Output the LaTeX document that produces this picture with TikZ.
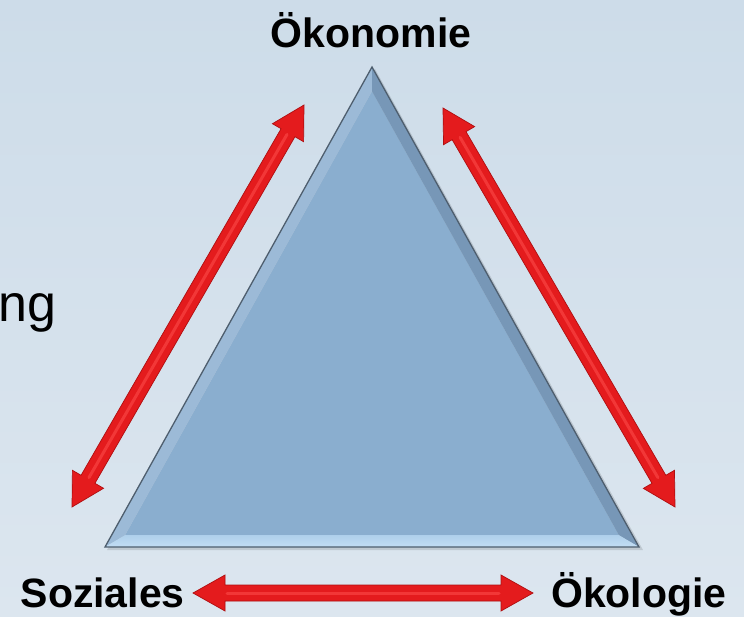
\documentclass[tikz,border=0pt]{standalone}
\usepackage{fontspec}
\setmainfont{Liberation Sans}
\usetikzlibrary{calc}
\definecolor{bgtop}{HTML}{CDDCE9}
\definecolor{bgbot}{HTML}{DCE6EF}
\definecolor{triface}{HTML}{8AAECF}
\definecolor{trileft}{HTML}{9CBAD7}
\definecolor{triright}{HTML}{7797B7}
\definecolor{tribase}{HTML}{B8D8F2}
\definecolor{triline}{HTML}{4E5E6E}
\definecolor{arrbody}{HTML}{E41B1D}
\definecolor{arredge}{HTML}{B00E10}
\definecolor{arrhi}{HTML}{FF4E4E}
\tikzset{
  lbl/.style={font=\fontsize{41}{48}\selectfont\bfseries, inner sep=0pt, text=black},
  arrowshadow/.style={fill=black, opacity=0.12},
  arrowfill/.style={fill=arrbody, draw=arredge, line width=0.7pt, line join=miter},
  arrowhi/.style={draw=arrhi, line width=3pt, opacity=0.55, line cap=round},
}
\newcommand\hl{32pt}
\newcommand\hw{18pt}
\newcommand\sw{8pt}
\newcommand\arrowpoly[2]{(#1) -- ($(#1h)!\hw!90:(#2)$) -- ($(#1h)!\sw!90:(#2)$) -- ($(#2h)!\sw!-90:(#1)$) -- ($(#2h)!\hw!-90:(#1)$) -- (#2) -- ($(#2h)!\hw!90:(#1)$) -- ($(#2h)!\sw!90:(#1)$) -- ($(#1h)!\sw!-90:(#2)$) -- ($(#1h)!\hw!-90:(#2)$) -- cycle}
\newcommand\redarrow[2]{%
  \coordinate (#1h) at ($(#1)!\hl!(#2)$);
  \coordinate (#2h) at ($(#2)!\hl!(#1)$);
  \fill[arrowshadow, shift={(3pt,4pt)}] \arrowpoly{#1}{#2};
  \path[arrowfill] \arrowpoly{#1}{#2};
  \draw[arrowhi] ($(#1h)!2pt!(#2)$) -- ($(#2h)!2pt!(#1)$);
}
\begin{document}
\begin{tikzpicture}[x=1pt, y=-1pt]
  \useasboundingbox (0,0) rectangle (744,617);
  \shade[top color=bgtop, bottom color=bgbot] (0,0) rectangle (744,617);

  % triangle
  \coordinate (apex) at (372,67);
  \coordinate (bl) at (105,547);
  \coordinate (br) at (639,547);
  \coordinate (ctr) at (372,390);
  \coordinate (iapex) at ($(ctr)!0.925!(apex)$);
  \coordinate (ibl) at ($(ctr)!0.925!(bl)$);
  \coordinate (ibr) at ($(ctr)!0.925!(br)$);
  \fill[black, opacity=0.12] ($(bl)+(2,3)$) -- ($(br)+(4,3)$) -- ($(apex)+(3,2)$) -- cycle;
  \fill[triface] (iapex) -- (ibl) -- (ibr) -- cycle;
  \fill[trileft] (apex) -- (bl) -- (ibl) -- (iapex) -- cycle;
  \fill[triright] (apex) -- (br) -- (ibr) -- (iapex) -- cycle;
  \shade[top color=tribase!80!triface, bottom color=tribase!85!white] (bl) -- (br) -- (ibr) -- (ibl) -- cycle;
  \draw[triline, line width=1.3pt, line join=miter] (apex) -- (bl) -- (br) -- cycle;

  % labels
  \node[lbl, anchor=base] (oek) at (371,48) {Ökonomie};
  \node[lbl, anchor=base west] (soz) at (20.5,607) {Soziales};
  \node[lbl, anchor=base west] (oko) at (551,607) {Ökologie};
  \node[font=\fontsize{52}{60}\selectfont, inner sep=0pt, anchor=base east] (ng) at (57,322) {ng};

  % arrows
  \coordinate (a1) at (72,507);
  \coordinate (a2) at (304,105);
  \coordinate (b1) at (443,108);
  \coordinate (b2) at (675,507);
  \coordinate (c1) at (193,593);
  \coordinate (c2) at (533,593);
  \redarrow{a1}{a2}
  \redarrow{b1}{b2}
  \redarrow{c1}{c2}
\end{tikzpicture}
\end{document}
